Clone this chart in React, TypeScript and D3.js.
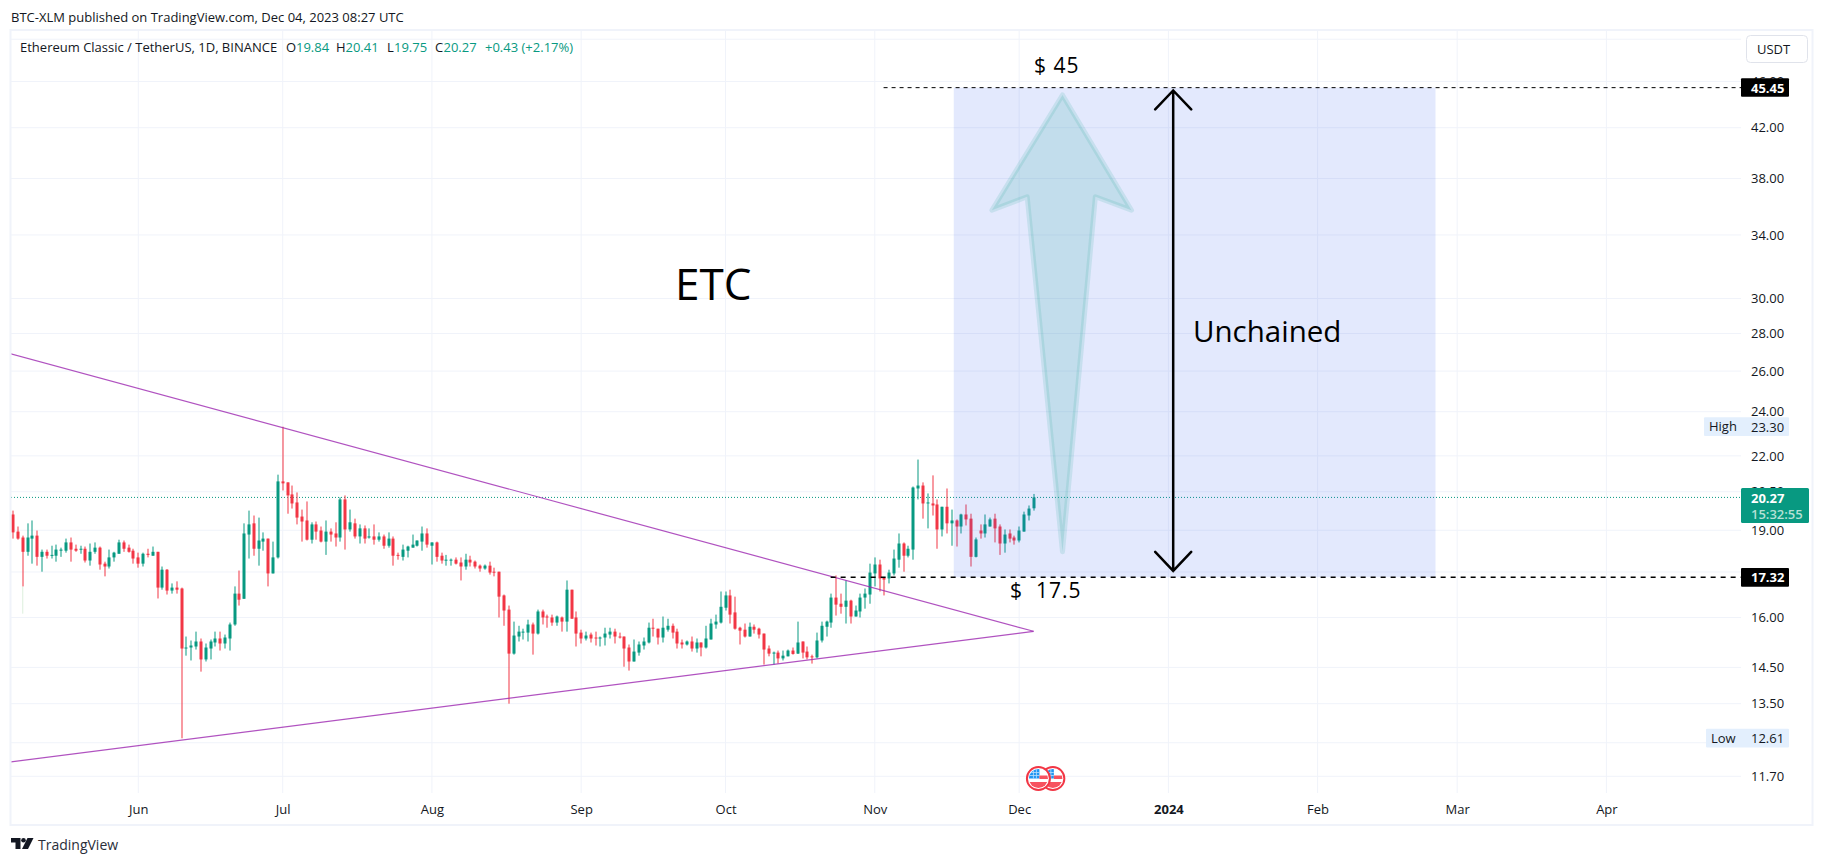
import React, { useEffect, useRef } from "react";
import * as d3 from "d3";

// daily candles, [open, high, low, close], first one is May 6 2023
const candlesMay = [
  [19.6, 19.75, 18.69, 18.92], [18.95, 19.14, 18.65, 18.69], [18.73, 18.8, 17.01, 18.21], [18.21, 19.26, 18.07, 18.73],
  [18.69, 19.37, 17.79, 18.8], [18.8, 18.99, 17.72, 18.03], [18.03, 18.29, 17.51, 18.21], [18.21, 18.29, 17.97, 18.07],
  [18.07, 18.43, 17.97, 18.1], [18.07, 18.47, 17.86, 18.29], [18.25, 18.36, 18.03, 18.29], [18.25, 18.69, 18.18, 18.55],
  [18.55, 18.73, 17.86, 18.29], [18.32, 18.47, 18.21, 18.25], [18.29, 18.43, 18.14, 18.32], [18.32, 18.4, 17.83, 17.9],
  [17.9, 18.51, 17.72, 18.21], [18.21, 18.55, 18.14, 18.36], [18.36, 18.4, 17.58, 17.76], [17.79, 17.86, 17.35, 17.69],
  [17.69, 18.29, 17.62, 18.01], [18.01, 18.21, 17.86, 18.18], [18.14, 18.65, 18.14, 18.55], [18.55, 18.62, 18.21, 18.32],
  [18.36, 18.47, 18.18, 18.21], [18.25, 18.32, 17.79, 17.97],
];
const candlesJun = [
  [18.01, 18.18, 17.65, 17.79], [17.79, 18.18, 17.69, 18.14], [18.14, 18.32, 18.01, 18.1], [18.07, 18.4, 18.07, 18.21],
  [18.21, 18.21, 16.61, 16.97], [16.97, 17.69, 16.9, 17.58], [17.58, 17.6, 16.74, 16.87], [16.87, 17.11, 16.77, 16.97],
  [16.97, 17.18, 16.77, 16.9], [16.94, 16.97, 12.61, 15.05], [15.05, 15.41, 14.84, 15.08], [15.08, 15.29, 14.7, 15.14],
  [15.11, 15.56, 15.02, 15.26], [15.26, 15.35, 14.38, 14.73], [14.73, 15.2, 14.67, 15.08], [15.05, 15.32, 14.73, 15.26],
  [15.23, 15.56, 15.11, 15.35], [15.35, 15.56, 14.99, 15.2], [15.2, 15.47, 15.05, 15.38], [15.35, 15.84, 14.99, 15.78],
  [15.78, 17.01, 15.74, 16.77], [16.77, 17.55, 16.38, 16.57], [16.6, 19.26, 16.6, 18.88], [18.84, 19.75, 17.97, 19.22],
  [19.26, 19.56, 18.07, 18.32], [18.32, 19.48, 17.72, 18.62], [18.58, 18.92, 18.25, 18.69], [18.69, 18.69, 17.01, 17.45],
  [17.45, 18.58, 17.45, 18.01], [18.01, 21.2, 17.97, 20.92],
];
const candlesJul = [
  [20.92, 23.3, 20.55, 20.84], [20.88, 20.88, 19.63, 20.35], [20.39, 20.75, 19.83, 20.03], [20.07, 20.47, 19.22, 19.48],
  [19.52, 19.79, 18.58, 19.33], [19.37, 20.11, 18.62, 18.65], [18.65, 19.3, 18.51, 19.22], [19.22, 19.33, 18.65, 18.95],
  [18.99, 19.14, 18.55, 18.58], [18.58, 19.37, 18.1, 18.95], [18.95, 19.07, 18.58, 18.84], [18.88, 19.3, 18.4, 18.73],
  [18.73, 20.27, 18.58, 20.19], [20.19, 20.35, 18.29, 19.03], [19.03, 19.79, 18.95, 19.3], [19.26, 19.44, 18.69, 18.77],
  [18.77, 19.22, 18.51, 19.07], [19.07, 19.18, 18.51, 18.69], [18.73, 19.07, 18.69, 18.77], [18.77, 19.22, 18.47, 18.65],
  [18.65, 18.92, 18.58, 18.77], [18.77, 18.84, 18.32, 18.43], [18.43, 18.92, 18.36, 18.69], [18.69, 18.77, 17.72, 18.07],
  [18.1, 18.18, 17.93, 18.07], [18.03, 18.47, 17.9, 18.29], [18.25, 18.43, 18.01, 18.4], [18.36, 18.84, 18.36, 18.47],
  [18.43, 18.62, 18.4, 18.62], [18.58, 19.14, 18.25, 18.88], [18.88, 19.07, 18.36, 18.47],
];
const candlesAug = [
  [18.43, 18.55, 17.76, 18.55], [18.55, 18.58, 17.86, 18.03], [18.07, 18.18, 17.79, 17.9], [17.9, 18.1, 17.72, 17.93],
  [17.9, 17.97, 17.72, 17.93], [17.93, 18.01, 17.76, 17.79], [17.83, 18.01, 17.21, 17.69], [17.69, 18.14, 17.58, 17.93],
  [17.93, 18.07, 17.69, 17.83], [17.86, 17.9, 17.62, 17.69], [17.72, 17.76, 17.51, 17.62], [17.62, 17.76, 17.58, 17.72],
  [17.72, 17.86, 17.41, 17.48], [17.51, 17.65, 17.35, 17.48], [17.51, 17.51, 16.0, 16.67], [16.71, 16.74, 15.74, 16.22],
  [16.25, 16.38, 13.5, 14.9], [14.9, 15.87, 14.87, 15.44], [15.41, 15.74, 15.26, 15.56], [15.53, 15.65, 15.32, 15.56],
  [15.53, 15.93, 15.26, 15.78], [15.78, 15.84, 14.87, 15.5], [15.5, 16.25, 15.47, 16.19], [16.19, 16.25, 15.78, 16.0],
  [16.03, 16.09, 15.68, 16.0], [16.0, 16.09, 15.74, 15.84], [15.84, 16.06, 15.74, 16.03], [16.0, 16.03, 15.56, 15.87],
  [15.87, 17.21, 15.56, 16.9], [16.9, 16.9, 15.96, 15.96], [16.0, 16.19, 15.11, 15.5],
];
const candlesSep = [
  [15.53, 15.62, 15.2, 15.35], [15.35, 15.56, 15.29, 15.44], [15.47, 15.53, 15.23, 15.35], [15.38, 15.56, 15.14, 15.36],
  [15.36, 15.41, 15.11, 15.38], [15.38, 15.68, 15.14, 15.5], [15.47, 15.68, 15.35, 15.56], [15.56, 15.65, 15.2, 15.41],
  [15.41, 15.53, 15.35, 15.38], [15.41, 15.41, 14.52, 15.05], [15.08, 15.17, 14.41, 14.67], [14.67, 15.32, 14.67, 14.96],
  [14.93, 15.26, 14.84, 15.17], [15.14, 15.38, 15.02, 15.26], [15.23, 15.84, 15.2, 15.68], [15.68, 15.96, 15.41, 15.65],
  [15.65, 15.65, 15.17, 15.38], [15.38, 16.03, 15.23, 15.68], [15.62, 15.96, 15.56, 15.74], [15.74, 15.81, 15.35, 15.53],
  [15.56, 15.65, 15.05, 15.2], [15.23, 15.32, 15.05, 15.17], [15.17, 15.29, 15.14, 15.26], [15.26, 15.41, 14.96, 15.05],
  [15.05, 15.35, 14.93, 15.23], [15.23, 15.23, 14.82, 15.08], [15.08, 15.74, 15.05, 15.35], [15.32, 15.96, 15.32, 15.81],
  [15.78, 16.09, 15.65, 15.87], [15.84, 16.84, 15.81, 16.34],
];
const candlesOct = [
  [16.31, 16.84, 16.22, 16.71], [16.71, 16.9, 15.81, 16.09], [16.16, 16.67, 15.62, 15.65], [15.68, 15.71, 15.17, 15.59],
  [15.62, 15.81, 15.38, 15.41], [15.41, 15.84, 15.41, 15.71], [15.71, 15.78, 15.5, 15.62], [15.65, 15.68, 15.35, 15.47],
  [15.5, 15.5, 14.58, 15.02], [15.05, 15.14, 14.82, 14.9], [14.92, 14.96, 14.58, 14.93], [14.93, 14.99, 14.61, 14.76],
  [14.76, 14.99, 14.7, 14.84], [14.82, 15.02, 14.82, 14.99], [14.99, 15.08, 14.87, 14.89], [14.9, 15.87, 14.89, 15.23],
  [15.26, 15.26, 14.76, 14.93], [14.96, 15.11, 14.73, 14.79], [14.82, 14.87, 14.61, 14.79], [14.79, 15.53, 14.76, 15.29],
  [15.29, 15.87, 15.23, 15.74], [15.71, 15.9, 15.41, 15.87], [15.84, 16.77, 15.68, 16.64], [16.64, 17.38, 16.06, 16.41],
  [16.44, 16.77, 16.12, 16.34], [16.34, 17.21, 15.81, 16.54], [16.54, 16.57, 15.81, 16.03], [16.03, 16.38, 16.03, 16.22],
  [16.19, 16.77, 16.0, 16.64], [16.64, 16.94, 16.28, 16.77], [16.74, 17.79, 16.44, 17.48],
];
const candlesNov = [
  [17.45, 18.01, 17.01, 17.76], [17.76, 17.93, 16.84, 17.28], [17.31, 17.31, 16.71, 17.24], [17.28, 17.58, 17.11, 17.48],
  [17.45, 18.29, 17.38, 17.97], [17.93, 18.88, 17.65, 18.51], [18.51, 18.55, 17.51, 18.07], [18.07, 18.43, 18.01, 18.32],
  [18.29, 20.71, 17.93, 20.67], [20.63, 21.84, 20.19, 20.75], [20.75, 20.88, 19.44, 20.03], [20.03, 20.43, 19.07, 20.07],
  [20.03, 21.17, 19.56, 19.95], [19.99, 20.19, 18.32, 19.03], [19.03, 19.9, 18.77, 19.9], [19.9, 20.63, 18.88, 19.26],
  [19.26, 19.79, 18.43, 19.37], [19.37, 19.41, 18.4, 19.14], [19.14, 19.63, 18.88, 19.6], [19.6, 19.99, 19.18, 19.41],
  [19.44, 19.63, 17.69, 18.03], [18.03, 18.73, 18.01, 18.66], [18.99, 19.22, 18.69, 18.88], [18.88, 19.6, 18.73, 19.22],
  [19.14, 19.48, 19.14, 19.41], [19.44, 19.63, 18.55, 19.07], [19.14, 19.22, 18.1, 18.51], [18.51, 19.03, 18.18, 18.84],
  [18.88, 19.03, 18.55, 18.69], [18.73, 18.8, 18.47, 18.62],
];
const candlesDec = [
  [18.62, 19.14, 18.55, 18.99], [18.95, 19.71, 18.95, 19.6], [19.56, 19.95, 19.37, 19.83], [19.84, 20.41, 19.75, 20.27],
];

const firstDay = new Date(Date.UTC(2023, 4, 6));
const priceTicks = [50, 46, 42, 38, 34, 30, 28, 26, 24, 22, 20.5, 19, 17.5, 16, 14.5, 13.5, 12.5, 11.7];
const monthTicks = [
  new Date(Date.UTC(2023, 5, 1)), new Date(Date.UTC(2023, 6, 1)), new Date(Date.UTC(2023, 7, 1)),
  new Date(Date.UTC(2023, 8, 1)), new Date(Date.UTC(2023, 9, 1)), new Date(Date.UTC(2023, 10, 1)),
  new Date(Date.UTC(2023, 11, 1)), new Date(Date.UTC(2024, 0, 1)), new Date(Date.UTC(2024, 1, 1)),
  new Date(Date.UTC(2024, 2, 1)), new Date(Date.UTC(2024, 3, 1)),
];
const monthLabels = ["Jun", "Jul", "Aug", "Sep", "Oct", "Nov", "Dec", "2024", "Feb", "Mar", "Apr"];
const eventDays = ["2023-12-08", "2023-12-05"];

const lastPrice = 20.27;
const targetPrice = 45.45;
const basePrice = 17.32;
const paleWick = { day: "2023-05-08", from: 17.01, to: 16.12 };

// drawing anchors, [time, price]
type Anchor = [string, number];
const upperTrend: Anchor[] = [["2023-05-05", 26.93], ["2023-12-04", 15.57]];
const lowerTrend: Anchor[] = [["2023-05-05", 12.03], ["2023-12-04", 15.57]];
const targetBox: Anchor[] = [["2023-11-17T10:00Z", targetPrice], ["2024-02-25T12:00Z", basePrice]];
const targetLine: Anchor[] = [["2023-11-02T20:00Z", targetPrice], ["2024-04-30", targetPrice]];
const baseLine: Anchor[] = [["2023-10-22T20:00Z", basePrice], ["2024-04-30", basePrice]];
const rangeArrow: Anchor[] = [["2024-01-02", 45.2], ["2024-01-02", 17.54]];
const bigArrow: Anchor[] = [
  ["2023-12-10", 44.8], ["2023-12-24T08:00Z", 35.7], ["2023-12-16T20:00Z", 36.66], ["2023-12-10", 18.21],
  ["2023-12-02T16:00Z", 36.66], ["2023-11-25T08:00Z", 35.7],
];

const UP = "#089981";
const DOWN = "#f23645";
const GRID = "#f0f3fa";
const INK = "#131722";
const FONT = "'Open Sans', sans-serif";

const App: React.FC = () => {
  const chartRef = useRef<SVGSVGElement>(null);

  useEffect(() => {
    if (!chartRef.current) return;
    document.body.style.margin = "0";

    const svg = d3.select(chartRef.current);
    svg.selectAll("*").remove();

    const pane = { left: 11, right: 1741, top: 30, bottom: 793 };

    const x = d3
      .scaleUtc()
      .domain([monthTicks[0], monthTicks[monthTicks.length - 1]])
      .range([138.3, 1606.4]);
    const y = d3.scaleLog().domain([11.7, 24]).range([776.3, 411.7]);
    const px = (a: Anchor) => x(new Date(a[0]));
    const py = (a: Anchor) => y(a[1]);

    svg.append("rect").attr("width", 1824).attr("height", 864).attr("fill", "#fff");

    svg
      .append("defs")
      .append("clipPath")
      .attr("id", "pane")
      .append("rect")
      .attr("x", pane.left)
      .attr("y", pane.top)
      .attr("width", pane.right - pane.left)
      .attr("height", pane.bottom - pane.top);

    const text = (
      parent: d3.Selection<any, any, any, any>,
      tx: number,
      ty: number,
      label: string,
      size: number,
      fill: string,
      weight = 400
    ) =>
      parent
        .append("text")
        .attr("x", tx)
        .attr("y", ty)
        .attr("dominant-baseline", "central")
        .style("font-family", FONT)
        .style("font-size", `${size}px`)
        .style("font-weight", weight)
        .style("fill", fill)
        .text(label);

    // Header
    text(svg, 11, 17, "BTC-XLM published on TradingView.com, Dec 04, 2023 08:27 UTC", 13, INK);

    // Grid
    svg
      .append("g")
      .selectAll("line")
      .data(priceTicks)
      .enter()
      .append("line")
      .attr("x1", pane.left)
      .attr("x2", pane.right)
      .attr("y1", (d) => y(d))
      .attr("y2", (d) => y(d))
      .attr("stroke", GRID);
    svg
      .append("g")
      .selectAll("line")
      .data(monthTicks)
      .enter()
      .append("line")
      .attr("x1", (d) => x(d))
      .attr("x2", (d) => x(d))
      .attr("y1", pane.top)
      .attr("y2", pane.bottom)
      .attr("stroke", GRID);

    // Last price line
    svg
      .append("line")
      .attr("x1", pane.left)
      .attr("x2", pane.right)
      .attr("y1", y(lastPrice))
      .attr("y2", y(lastPrice))
      .attr("stroke", UP)
      .attr("stroke-dasharray", "1,2");

    // Candles
    const candles = [
      ...candlesMay, ...candlesJun, ...candlesJul, ...candlesAug,
      ...candlesSep, ...candlesOct, ...candlesNov, ...candlesDec,
    ].map((c, i) => ({
      date: d3.utcDay.offset(firstDay, i),
      open: c[0],
      high: c[1],
      low: c[2],
      close: c[3],
    }));

    svg
      .append("line")
      .attr("x1", x(new Date(paleWick.day)))
      .attr("x2", x(new Date(paleWick.day)))
      .attr("y1", y(paleWick.from))
      .attr("y2", y(paleWick.to))
      .attr("stroke", "#dcefdc");

    const candle = svg
      .append("g")
      .selectAll("g")
      .data(candles)
      .enter()
      .append("g")
      .attr("fill", (d) => (d.close >= d.open ? UP : DOWN));
    candle
      .append("rect")
      .attr("x", (d) => Math.round(x(d.date)) - 0.5)
      .attr("width", 1)
      .attr("y", (d) => y(d.high))
      .attr("height", (d) => y(d.low) - y(d.high));
    candle
      .append("rect")
      .attr("x", (d) => Math.round(x(d.date)) - 1.5)
      .attr("width", 3)
      .attr("y", (d) => y(Math.max(d.open, d.close)))
      .attr("height", (d) => Math.max(1, y(Math.min(d.open, d.close)) - y(Math.max(d.open, d.close))));

    // Drawings
    const drawings = svg.append("g").attr("clip-path", "url(#pane)");

    drawings
      .append("rect")
      .attr("x", px(targetBox[0]))
      .attr("y", py(targetBox[0]))
      .attr("width", px(targetBox[1]) - px(targetBox[0]))
      .attr("height", py(targetBox[1]) - py(targetBox[0]))
      .attr("fill", "#3b62ee")
      .attr("fill-opacity", 0.14);

    const path = d3.line<Anchor>().x(px).y(py);

    [upperTrend, lowerTrend].forEach((t) =>
      drawings
        .append("path")
        .attr("d", path(t))
        .attr("fill", "none")
        .attr("stroke", "#9c27b0")
        .attr("stroke-opacity", 0.8)
        .attr("stroke-width", 1.2)
    );

    drawings
      .append("path")
      .attr("d", path(bigArrow) + "Z")
      .attr("fill", "#26a69a")
      .attr("fill-opacity", 0.17)
      .attr("stroke", "#26a69a")
      .attr("stroke-opacity", 0.15)
      .attr("stroke-width", 5)
      .attr("stroke-linejoin", "round");

    drawings
      .append("line")
      .attr("x1", px(targetLine[0]))
      .attr("x2", px(targetLine[1]))
      .attr("y1", py(targetLine[0]))
      .attr("y2", py(targetLine[1]))
      .attr("stroke", "#000")
      .attr("stroke-dasharray", "4,4");
    drawings
      .append("line")
      .attr("x1", px(baseLine[0]))
      .attr("x2", px(baseLine[1]))
      .attr("y1", py(baseLine[0]))
      .attr("y2", py(baseLine[1]))
      .attr("stroke", "#000")
      .attr("stroke-width", 1.3)
      .attr("stroke-dasharray", "5,5");

    // Double headed arrow
    const ax = px(rangeArrow[0]);
    const ay0 = py(rangeArrow[0]);
    const ay1 = py(rangeArrow[1]);
    const head = 18;
    drawings
      .append("path")
      .attr(
        "d",
        `M${ax},${ay0}V${ay1}M${ax - head},${ay0 + head + 1}L${ax},${ay0}L${ax + head},${ay0 + head + 1}` +
          `M${ax - head},${ay1 - head - 1}L${ax},${ay1}L${ax + head},${ay1 - head - 1}`
      )
      .attr("fill", "none")
      .attr("stroke", "#000")
      .attr("stroke-width", 2.5)
      .attr("stroke-linecap", "round");

    // Drawing labels
    text(svg, 675, 283, "ETC", 44, "#000");
    text(svg, 1193, 330, "Unchained", 29.5, "#000");
    text(svg, 1034, 65, "$ 45", 21, "#000", 500).style("letter-spacing", "1px");
    text(svg, 1010, 590, "$  17.5", 21, "#000", 500).style("white-space", "pre").style("letter-spacing", "1px");

    // Economic event flags
    const flags = svg
      .append("g")
      .selectAll("g")
      .data(eventDays)
      .enter()
      .append("g")
      .attr("transform", (d) => `translate(${x(new Date(d))},${pane.bottom - 14.5})`);
    flags.append("clipPath").attr("id", (_, i) => `flag${i}`).append("circle").attr("r", 9.5);
    flags.append("circle").attr("r", 11.5).attr("fill", "#fff").attr("stroke", DOWN).attr("stroke-width", 2);
    const flag = flags.append("g").attr("clip-path", (_, i) => `url(#flag${i})`);
    flag.append("rect").attr("x", -10).attr("y", -10).attr("width", 11).attr("height", 10).attr("fill", "#2196f3");
    flag.append("rect").attr("x", 1).attr("y", -3).attr("width", 10).attr("height", 3.5).attr("fill", "#f7525f");
    flag.append("rect").attr("x", -10).attr("y", 3.5).attr("width", 20).attr("height", 7).attr("fill", "#f7525f");
    flag
      .append("path")
      .attr("d", "M-5,-10V0M-2,-10V0M-10,-6H1M-10,-3H1")
      .attr("stroke", "#bbdefb")
      .attr("stroke-width", 0.8);

    // Price axis
    const priceAxis = svg
      .append("g")
      .attr("transform", `translate(${pane.right},0)`)
      .call(
        d3
          .axisRight(y)
          .tickValues(priceTicks)
          .tickSize(0)
          .tickPadding(10)
          .tickFormat((d) => ((d as number) === 50 ? "" : d3.format(".2f")(d as number)))
      );
    priceAxis.select(".domain").remove();
    priceAxis.selectAll("text").style("font-family", FONT).style("font-size", "13px").style("fill", INK);

    // Time axis
    const timeAxis = svg
      .append("g")
      .attr("transform", `translate(0,${pane.bottom})`)
      .call(
        d3
          .axisBottom(x)
          .tickValues(monthTicks)
          .tickSize(0)
          .tickPadding(12)
          .tickFormat((_, i) => monthLabels[i])
      );
    timeAxis.select(".domain").remove();
    timeAxis
      .selectAll("text")
      .style("font-family", FONT)
      .style("font-size", "13px")
      .style("fill", INK)
      .style("font-weight", (_, i) => (monthLabels[i] === "2024" ? 700 : 400));

    // Price tags
    const tag = (value: number, tagTop: number, label: string, tagLeft: number, bg: string, fg: string, weight: number) => {
      svg
        .append("rect")
        .attr("x", tagLeft)
        .attr("y", tagTop)
        .attr("width", 1789 - tagLeft)
        .attr("height", 18.7)
        .attr("rx", 1)
        .attr("fill", bg);
      text(svg, 1751, tagTop + 9.5, d3.format(".2f")(value), 13, fg, weight);
      if (label) text(svg, tagLeft + 5, tagTop + 9, label, 13, INK);
    };
    tag(targetPrice, y(targetPrice) - 9.5, "", pane.right, "#000", "#fff", 700);
    tag(basePrice, y(basePrice) - 9.3, "", pane.right, "#000", "#fff", 700);
    tag(23.3, y(23.3) - 9.5, "High", 1704, "#e3effd", INK, 400);
    tag(12.61, y(12.61) - 9.5, "Low", 1706, "#e3effd", INK, 400);

    svg
      .append("rect")
      .attr("x", pane.right)
      .attr("y", y(lastPrice) - 9.5)
      .attr("width", 68)
      .attr("height", 35)
      .attr("rx", 1.5)
      .attr("fill", UP);
    text(svg, 1751, y(lastPrice) + 0.5, d3.format(".2f")(lastPrice), 13, "#fff", 700);
    text(svg, 1751, y(lastPrice) + 16.5, "15:32:55", 13, "#b5e0d5", 600);

    // Legend
    const legend = svg.append("g");
    text(legend, 20, 47, "Ethereum Classic / TetherUS, 1D, BINANCE", 13, INK);
    text(legend, 286, 47, "O", 13, INK);
    text(legend, 296, 47, "19.84", 13, UP);
    text(legend, 336, 47, "H", 13, INK);
    text(legend, 345.5, 47, "20.41", 13, UP);
    text(legend, 387, 47, "L", 13, INK);
    text(legend, 394, 47, "19.75", 13, UP);
    text(legend, 435, 47, "C", 13, INK);
    text(legend, 443.5, 47, "20.27", 13, UP);
    text(legend, 485, 47, "+0.43 (+2.17%)", 13, UP);

    // Currency button
    svg
      .append("rect")
      .attr("x", 1746.5)
      .attr("y", 35.5)
      .attr("width", 61)
      .attr("height", 27)
      .attr("rx", 4)
      .attr("fill", "#fff")
      .attr("stroke", "#e0e3eb");
    text(svg, 1757, 49, "USDT", 13, INK);

    // Chart frame
    svg
      .append("rect")
      .attr("x", pane.left - 0.5)
      .attr("y", pane.top)
      .attr("width", 1813 - pane.left)
      .attr("height", 825 - pane.top)
      .attr("fill", "none")
      .attr("stroke", GRID)
      .attr("stroke-width", 2);

    // Footer logo
    const logo = svg.append("g").attr("transform", "translate(11,838)").attr("fill", "#131722");
    logo.append("path").attr("d", "M0,0H9.5V11H4.5V4.5H0Z");
    logo.append("circle").attr("cx", 12.5).attr("cy", 2.3).attr("r", 2.3);
    logo.append("path").attr("d", "M16.5,0H22.5L17,11H11Z");
    text(svg, 38, 844.5, "TradingView", 14, "#2a2e39");
  }, []);

  return <svg ref={chartRef} width={1824} height={864} style={{ display: "block" }} />;
};

export default App;
